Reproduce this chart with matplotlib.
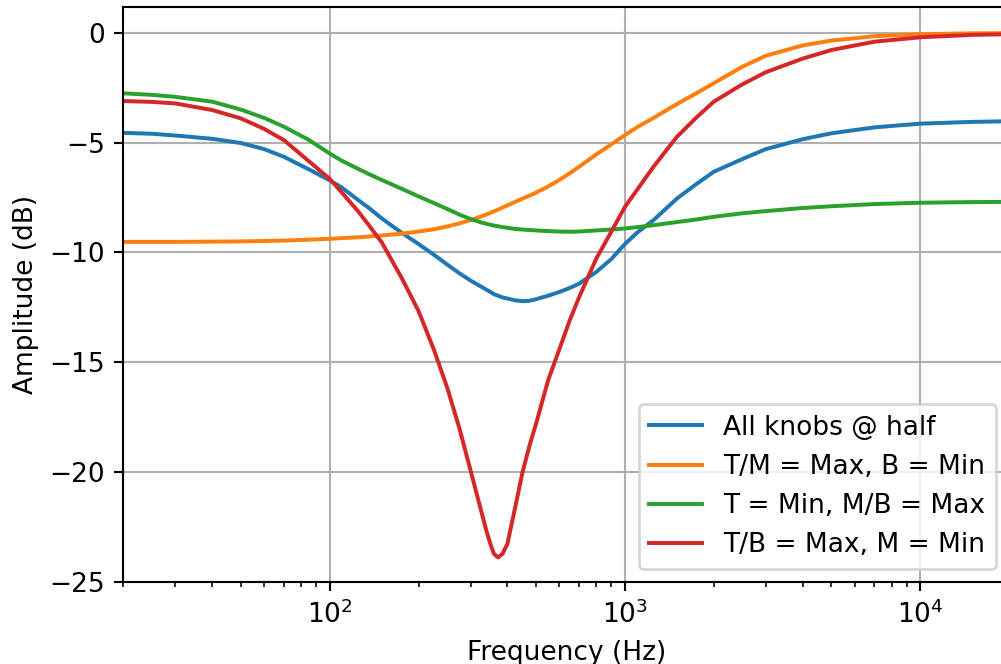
import numpy as np
from matplotlib import pyplot as plt

# frequency points (Hz)
freq = [20, 25, 30, 40, 50, 60, 70, 85, 100, 110, 125, 135, 150, 175, 200, 225,
        250, 275, 300, 325, 340, 350, 360, 372, 385, 400, 425, 450, 475, 500,
        550, 600, 650, 700, 800, 900, 1000, 1100, 1250, 1500, 1750, 2000, 2500,
        3000, 4000, 5000, 7000, 10000, 15000, 20000]

all_half = [-4.56, -4.6, -4.68, -4.83, -5.02, -5.3, -5.65, -6.22, -6.72, -7.05,
            -7.62, -7.95, -8.45, -9.1, -9.62, -10.1, -10.55, -10.95, -11.28,
            -11.55, -11.7, -11.8, -11.9, -11.97, -12.05, -12.1, -12.18, -12.22,
            -12.2, -12.13, -11.97, -11.8, -11.62, -11.42, -10.89, -10.3, -9.62,
            -9.1, -8.53, -7.55, -6.88, -6.33, -5.75, -5.3, -4.85, -4.58, -4.31,
            -4.14, -4.06, -4.03]

tm_max = [-9.52, -9.52, -9.52, -9.51, -9.5, -9.48, -9.46, -9.42, -9.38, -9.35,
          -9.31, -9.28, -9.23, -9.15, -9.05, -8.95, -8.82, -8.68, -8.53, -8.37,
          -8.27, -8.2, -8.13, -8.05, -7.96, -7.86, -7.7, -7.55, -7.42, -7.28,
          -7.0, -6.7, -6.4, -6.1, -5.54, -5.08, -4.66, -4.3, -3.88, -3.25,
          -2.75, -2.3, -1.55, -1.05, -0.58, -0.36, -0.16, -0.07, -0.03, -0.02]

t_min = [-2.76, -2.83, -2.92, -3.14, -3.5, -3.88, -4.28, -4.88, -5.5, -5.83,
         -6.2, -6.42, -6.7, -7.1, -7.45, -7.75, -8.02, -8.28, -8.48, -8.63,
         -8.7, -8.74, -8.78, -8.81, -8.85, -8.88, -8.93, -8.96, -8.98, -9.0,
         -9.03, -9.05, -9.06, -9.05, -9.0, -8.96, -8.91, -8.85, -8.76, -8.62,
         -8.5, -8.38, -8.22, -8.12, -7.98, -7.9, -7.8, -7.74, -7.71, -7.7]

tb_max = [-3.11, -3.15, -3.22, -3.52, -3.9, -4.38, -4.89, -5.85, -6.65, -7.28,
          -8.14, -8.72, -9.54, -11.14, -12.67, -14.4, -16.15, -18.0, -19.92,
          -21.7, -22.7, -23.26, -23.72, -23.88, -23.72, -23.26, -21.6, -20.0,
          -18.8, -17.8, -15.8, -14.4, -13.1, -12.03, -10.28, -9.05, -7.93,
          -7.15, -6.1, -4.74, -3.85, -3.14, -2.35, -1.8, -1.18, -0.79, -0.41,
          -0.21, -0.1, -0.07]

labels = ['All knobs @ half', 'T/M = Max, B = Min',
          'T = Min, M/B = Max', 'T/B = Max, M = Min']

dpi = 190
fig = plt.figure(figsize=(1001 / dpi, 664 / dpi), dpi=dpi)
ax = fig.add_axes([0.1232, 0.1235, 0.8848, 0.866])

for series, label in zip([all_half, tm_max, t_min, tb_max], labels):
    ax.semilogx(freq, series, label=label, linewidth=1.5)

ax.set_xlim(20, 20000)
ax.set_ylim(-25, 1.17)
ax.grid(True)
ax.set_xlabel('Frequency (Hz)')
ax.set_ylabel('Amplitude (dB)')
ax.legend(loc='lower right')

fig.savefig('out.png', dpi=dpi)
